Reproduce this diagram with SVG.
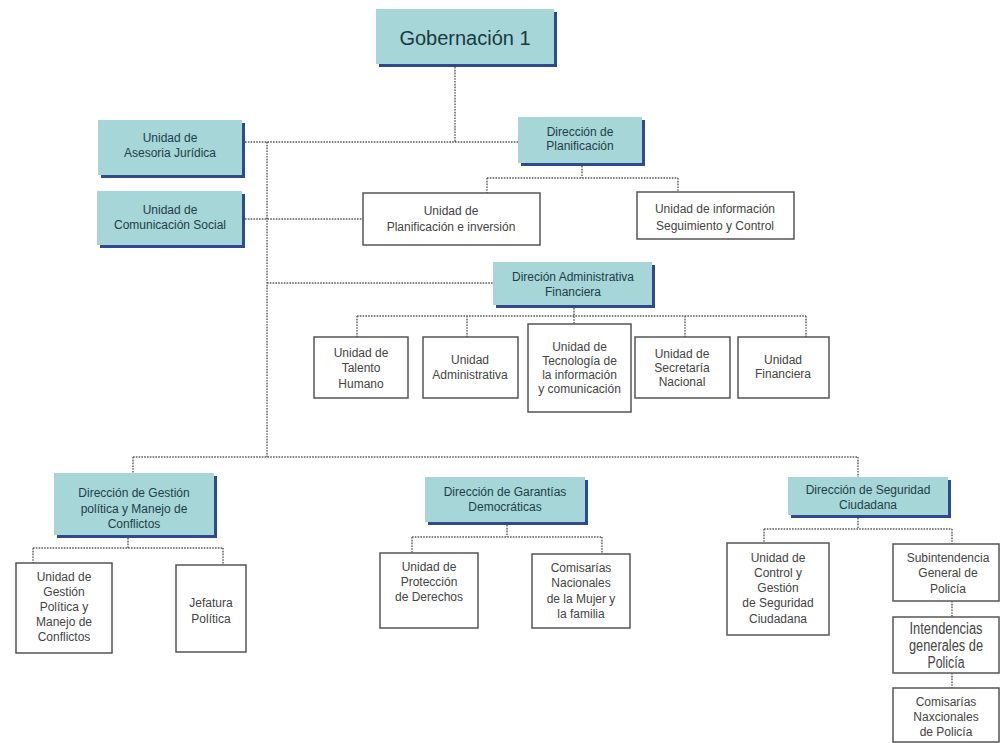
<svg xmlns="http://www.w3.org/2000/svg" width="1001" height="743" viewBox="0 0 1001 743">
<style>
.bg{fill:#ffffff}
.sh{fill:#2f4a8f}
.tl{fill:#a6d6d8}
.wb{fill:#ffffff;stroke:#555555;stroke-width:1.5}
.c{fill:none;stroke:#5a5a5a;stroke-width:1.4;stroke-dasharray:1.6 1.2}
text{font-family:"Liberation Sans",Arial,sans-serif;font-size:12px;text-anchor:middle}
.tt{fill:#1f3d48}
.wt{fill:#444444}
.big{font-size:20px;fill:#1a3a40}
.cond{font-size:16px;fill:#444444}
</style>
<rect class="bg" x="0" y="0" width="1001" height="743"/>
<g id="connectors">
<path class="c" d="M455 67V142M245 142H518M267 142V457M245 219H363M267 283H493"/>
<path class="c" d="M582 166V178M487 178H678M487 178V193M678 178V192"/>
<path class="c" d="M357 316H806M357 316V337M467 316V337M574 308V324M685 316V337M806 316V337"/>
<path class="c" d="M133 457H858M133 457V473M858 457V477"/>
<path class="c" d="M128 538V548M33 548H223M33 548V563M223 548V565"/>
<path class="c" d="M507 525V537M412 537H602M412 537V553M602 537V554"/>
<path class="c" d="M858 518V529M764 529H952M764 529V543M952 529V544M952 601V617M952 673V688"/>
</g>
<g id="gobernacion">
<rect class="sh" x="379" y="12" width="178" height="55"/>
<rect class="tl" x="376" y="9" width="178" height="55"/>
<text class="big" x="465" y="45">Gobernación 1</text>
</g>
<g id="asesoria">
<rect class="sh" x="101" y="123" width="144" height="55"/>
<rect class="tl" x="98" y="120" width="144" height="55"/>
<text class="tt" x="170" y="142">Unidad de</text>
<text class="tt" x="170" y="157">Asesoria Jurídica</text>
</g>
<g id="comunicacion">
<rect class="sh" x="100" y="194" width="145" height="54"/>
<rect class="tl" x="97" y="191" width="145" height="54"/>
<text class="tt" x="170" y="214">Unidad de</text>
<text class="tt" x="170" y="229">Comunicación Social</text>
</g>
<g id="dir-planificacion">
<rect class="sh" x="521" y="120" width="124" height="46"/>
<rect class="tl" x="518" y="117" width="124" height="46"/>
<text class="tt" x="580" y="136">Dirección de</text>
<text class="tt" x="580" y="150">Planificación</text>
</g>
<g id="unidad-planificacion">
<rect class="wb" x="363" y="193" width="177" height="52"/>
<text class="wt" x="451" y="215">Unidad de</text>
<text class="wt" x="451" y="231">Planificación e inversión</text>
</g>
<g id="unidad-informacion">
<rect class="wb" x="637" y="192" width="157" height="47"/>
<text class="wt" x="715" y="213">Unidad de información</text>
<text class="wt" x="715" y="230">Seguimiento y Control</text>
</g>
<g id="dir-administrativa">
<rect class="sh" x="496" y="265" width="159" height="43"/>
<rect class="tl" x="493" y="262" width="159" height="43"/>
<text class="tt" x="573" y="281">Direción Administrativa</text>
<text class="tt" x="573" y="296">Financiera</text>
</g>
<g id="talento">
<rect class="wb" x="314" y="337" width="94" height="61"/>
<text class="wt" x="361" y="357">Unidad de</text>
<text class="wt" x="361" y="372">Talento</text>
<text class="wt" x="361" y="388">Humano</text>
</g>
<g id="administrativa">
<rect class="wb" x="423" y="337" width="95" height="61"/>
<text class="wt" x="470" y="364">Unidad</text>
<text class="wt" x="470" y="379">Administrativa</text>
</g>
<g id="tecnologia">
<rect class="wb" x="528" y="324" width="103" height="88"/>
<text class="wt" x="579.5" y="351">Unidad de</text>
<text class="wt" x="579.5" y="365">Tecnología de</text>
<text class="wt" x="579.5" y="379">la información</text>
<text class="wt" x="579.5" y="393">y comunicación</text>
</g>
<g id="secretaria">
<rect class="wb" x="635" y="337" width="95" height="61"/>
<text class="wt" x="682" y="358">Unidad de</text>
<text class="wt" x="682" y="372">Secretaría</text>
<text class="wt" x="682" y="386">Nacional</text>
</g>
<g id="financiera">
<rect class="wb" x="738" y="337" width="91" height="61"/>
<text class="wt" x="783" y="364">Unidad</text>
<text class="wt" x="783" y="378">Financiera</text>
</g>
<g id="dir-gestion">
<rect class="sh" x="57" y="476" width="160" height="62"/>
<rect class="tl" x="54" y="473" width="160" height="62"/>
<text class="tt" x="134" y="497">Dirección de Gestión</text>
<text class="tt" x="134" y="513">política y Manejo de</text>
<text class="tt" x="134" y="528">Conflictos</text>
</g>
<g id="unidad-gestion">
<rect class="wb" x="16" y="563" width="96" height="90"/>
<text class="wt" x="64" y="581">Unidad de</text>
<text class="wt" x="64" y="596">Gestión</text>
<text class="wt" x="64" y="611">Política y</text>
<text class="wt" x="64" y="626">Manejo de</text>
<text class="wt" x="64" y="641">Conflictos</text>
</g>
<g id="jefatura">
<rect class="wb" x="176" y="565" width="70" height="87"/>
<text class="wt" x="211" y="607">Jefatura</text>
<text class="wt" x="211" y="623">Política</text>
</g>
<g id="dir-garantias">
<rect class="sh" x="428" y="480" width="160" height="45"/>
<rect class="tl" x="425" y="477" width="160" height="45"/>
<text class="tt" x="505" y="496">Dirección de Garantías</text>
<text class="tt" x="505" y="511">Democráticas</text>
</g>
<g id="proteccion">
<rect class="wb" x="380" y="553" width="98" height="75"/>
<text class="wt" x="429" y="571">Unidad de</text>
<text class="wt" x="429" y="586">Protección</text>
<text class="wt" x="429" y="601">de Derechos</text>
</g>
<g id="comisarias-mujer">
<rect class="wb" x="532" y="554" width="98" height="74"/>
<text class="wt" x="581" y="572">Comisarías</text>
<text class="wt" x="581" y="587">Nacionales</text>
<text class="wt" x="581" y="603">de la Mujer y</text>
<text class="wt" x="581" y="618">la familia</text>
</g>
<g id="dir-seguridad">
<rect class="sh" x="791" y="480" width="160" height="38"/>
<rect class="tl" x="788" y="477" width="160" height="38"/>
<text class="tt" x="868" y="494">Dirección de Seguridad</text>
<text class="tt" x="868" y="509">Ciudadana</text>
</g>
<g id="control">
<rect class="wb" x="727" y="543" width="102" height="92"/>
<text class="wt" x="778" y="562">Unidad de</text>
<text class="wt" x="778" y="577">Control y</text>
<text class="wt" x="778" y="592">Gestión</text>
<text class="wt" x="778" y="607">de Seguridad</text>
<text class="wt" x="778" y="623">Ciudadana</text>
</g>
<g id="subintendencia">
<rect class="wb" x="893" y="544" width="106" height="57"/>
<text class="wt" x="948" y="562">Subintendencia</text>
<text class="wt" x="948" y="577">General de</text>
<text class="wt" x="948" y="593">Policía</text>
</g>
<g id="intendencias">
<rect class="wb" x="893" y="617" width="106" height="56"/>
<text class="cond" x="946" y="634" textLength="73" lengthAdjust="spacingAndGlyphs">Intendencias</text>
<text class="cond" x="946" y="651" textLength="74" lengthAdjust="spacingAndGlyphs">generales de</text>
<text class="cond" x="946" y="668" textLength="37" lengthAdjust="spacingAndGlyphs">Policía</text>
</g>
<g id="comisarias-policia">
<rect class="wb" x="893" y="688" width="106" height="54"/>
<text class="wt" x="946" y="706">Comisarías</text>
<text class="wt" x="946" y="721">Naxcionales</text>
<text class="wt" x="946" y="736">de Policía</text>
</g>
</svg>
